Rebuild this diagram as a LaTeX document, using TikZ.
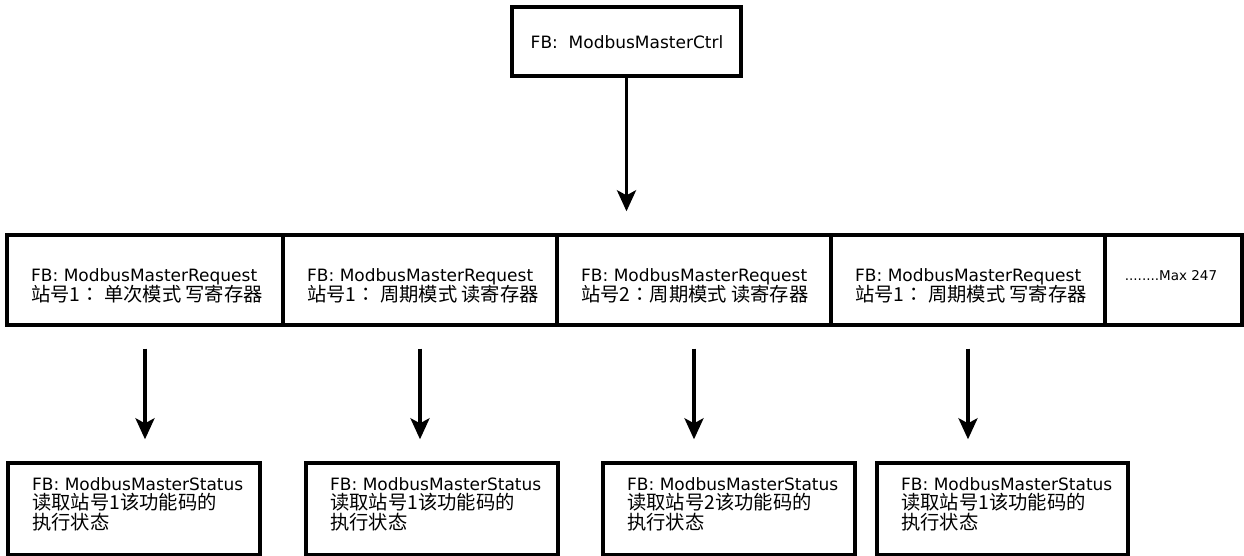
\documentclass[tikz,border=0pt]{standalone}
\usepackage{fontspec}
\setmainfont{DejaVu Sans}
\newfontfamily\cjk{Noto Sans CJK SC}
\newfontfamily\cjktc{Noto Sans CJK TC}
\usetikzlibrary{arrows.meta}
\newcommand{\zhcolon}{{\cjktc ：}}
\begin{document}
\begin{tikzpicture}[x=1pt,y=-1pt,
  box/.style={draw=black, line width=3.4pt, inner sep=0pt},
  txt/.style={anchor=north west, inner sep=0pt, align=left, font=\fontsize{17}{19.5}\selectfont},
  arr/.style={line width=3.4pt, -{Stealth[length=21pt,width=19pt,inset=5pt]}}]
\useasboundingbox (0,0) rectangle (1244,556);
% top box
\node[box, minimum width=229pt, minimum height=69pt] (top) at (626.5,41.5) {};
\node[inner sep=0pt, font=\fontsize{17}{19.5}\selectfont] (ttop) at (627,42) {FB:\ \ ModbusMasterCtrl};
% middle row
\node[box, minimum width=276pt, minimum height=90pt] (c1) at (145,280) {};
\node[box, minimum width=274pt, minimum height=90pt] (c2) at (420,280) {};
\node[box, minimum width=274pt, minimum height=90pt] (c3) at (694,280) {};
\node[box, minimum width=274pt, minimum height=90pt] (c4) at (968,280) {};
\node[box, minimum width=137pt, minimum height=90pt] (c5) at (1173.5,280) {};
\node[txt] (t1) at (31,268) {FB: ModbusMasterRequest\\{\cjk\fontsize{19.3}{20}\selectfont 站号1\zhcolon\ 单次模式 写寄存器}};
\node[txt] (t2) at (307,268) {FB: ModbusMasterRequest\\{\cjk\fontsize{19.3}{20}\selectfont 站号1\zhcolon\ 周期模式 读寄存器}};
\node[txt] (t3) at (581,268) {FB: ModbusMasterRequest\\{\cjk\fontsize{19.3}{20}\selectfont 站号2\zhcolon 周期模式 读寄存器}};
\node[txt] (t4) at (855,268) {FB: ModbusMasterRequest\\{\cjk\fontsize{19.3}{20}\selectfont 站号1\zhcolon\ 周期模式 写寄存器}};
\node[inner sep=0pt, font=\fontsize{13.5}{15}\selectfont] (t5) at (1171,276) {........Max 247};
% bottom row
\node[box, minimum width=252pt, minimum height=92pt] (s1) at (134,509) {};
\node[box, minimum width=252pt, minimum height=92pt] (s2) at (432,509) {};
\node[box, minimum width=252pt, minimum height=92pt] (s3) at (729,509) {};
\node[box, minimum width=251pt, minimum height=92pt] (s4) at (1002.5,509) {};
\node[txt] (u1) at (32,477) {FB: ModbusMasterStatus\\{\cjk\fontsize{19.3}{20.5}\selectfont 读取站号1该功能码的}\\{\cjk\fontsize{19.3}{20.5}\selectfont 执行状态}};
\node[txt] (u2) at (330,477) {FB: ModbusMasterStatus\\{\cjk\fontsize{19.3}{20.5}\selectfont 读取站号1该功能码的}\\{\cjk\fontsize{19.3}{20.5}\selectfont 执行状态}};
\node[txt] (u3) at (627,477) {FB: ModbusMasterStatus\\{\cjk\fontsize{19.3}{20.5}\selectfont 读取站号2该功能码的}\\{\cjk\fontsize{19.3}{20.5}\selectfont 执行状态}};
\node[txt] (u4) at (901,477) {FB: ModbusMasterStatus\\{\cjk\fontsize{19.3}{20.5}\selectfont 读取站号1该功能码的}\\{\cjk\fontsize{19.3}{20.5}\selectfont 执行状态}};
% arrows
\draw[arr, shorten >=22pt] (top.south) -- (top.south |- c3.north);
\draw[arr, shorten <=22pt, shorten >=22pt] (c1.south) -- (c1.south |- s1.north);
\draw[arr, shorten <=22pt, shorten >=22pt] (c2.south) -- (c2.south |- s2.north);
\draw[arr, shorten <=22pt, shorten >=22pt] (c3.south) -- (c3.south |- s3.north);
\draw[arr, shorten <=22pt, shorten >=22pt] (c4.south) -- (c4.south |- s4.north);
\end{tikzpicture}
\end{document}
